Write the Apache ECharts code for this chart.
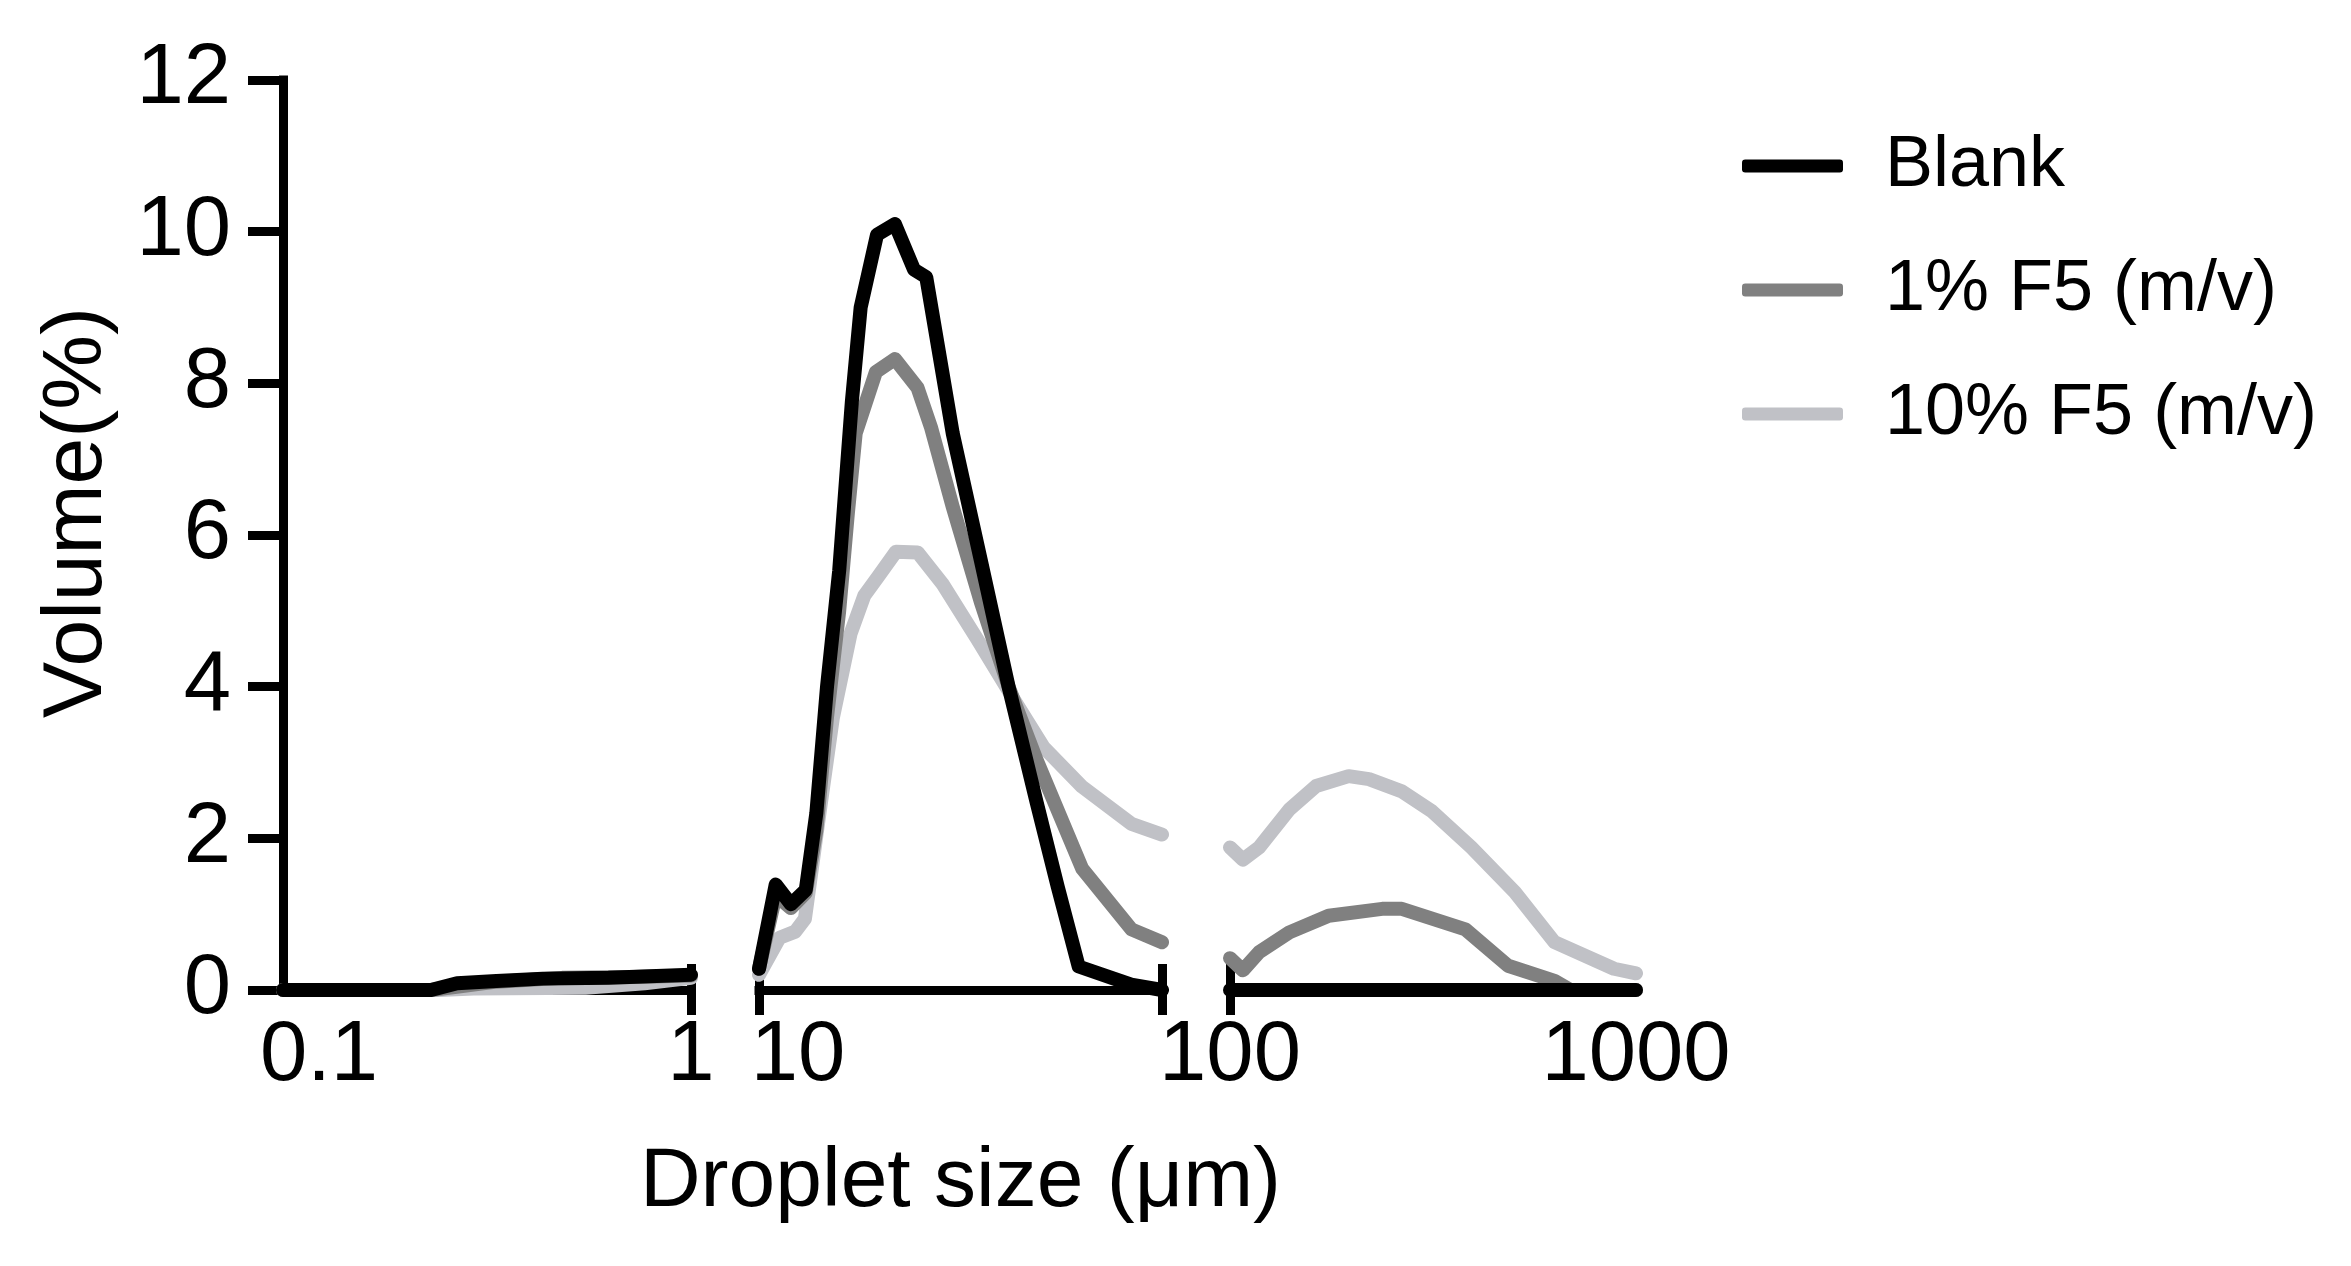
<!DOCTYPE html>
<html>
<head>
<meta charset="utf-8">
<title>Droplet size distribution</title>
<script src="https://cdn.jsdelivr.net/npm/echarts@6.0.0/dist/echarts.min.js"></script>
<style>
  html, body { margin: 0; padding: 0; background: #fff; }
  #chart { width: 2351px; height: 1266px; }
</style>
</head>
<body>
<div id="chart"></div>
<script>
// broken log x axis: three segments (µm)
const segmentRanges = [[0.08, 1], [8, 80], [100, 1000]]
const segmentTicks = [[1], [8, 80], [100]]
const segmentLabels = [[0.1, 1], [10], [100, 1000]]

const seriesNames = ['Blank', '1% F5 (m/v)', '10% F5 (m/v)']

// Blank
const blankSize = [0.08, 0.2, 0.235, 0.3, 0.4, 0.6, 1,
  8, 8.8, 9.6, 10.45, 11.1, 11.8, 12.65, 13.6, 14.3, 15.7, 17.4, 19.4, 20.8, 24.2, 28.4, 33.3, 39.1, 44.1, 49.7, 67.1, 80,
  100, 1000]
const blankVol = [0, 0, 0.09, 0.12, 0.15, 0.16, 0.2,
  0.28, 1.39, 1.13, 1.32, 2.33, 4.0, 5.53, 7.76, 9.0, 9.96, 10.1, 9.5, 9.4, 7.34, 5.67, 4.0, 2.47, 1.36, 0.31, 0.07, 0,
  0, 0]

// 1% F5
const f1Size = [0.08, 0.2, 0.24, 0.3, 0.45, 0.7, 1,
  8, 8.8, 9.6, 10.45, 11.1, 11.8, 12.65, 13.3, 13.9, 15.6, 17.4, 19.8, 21.4, 24.2, 28.4, 33.3, 39.1, 50.7, 67.2, 80,
  100, 107.6, 118, 140, 175, 237, 265, 380, 484, 630, 690, 1000]
const f1Vol = [0, 0, 0.05, 0.11, 0.16, 0.17, 0.19,
  0.28, 1.25, 1.08, 1.28, 2.1, 3.6, 5.0, 6.3, 7.34, 8.15, 8.32, 7.94, 7.41, 6.37, 5.12, 4.0, 3.03, 1.6, 0.8, 0.63,
  0.42, 0.26, 0.5, 0.76, 0.98, 1.07, 1.07, 0.8, 0.32, 0.12, 0, 0]

// 10% F5
const f10Size = [0.08, 0.21, 0.26, 0.52, 0.75, 1,
  8, 9, 9.84, 10.4, 11.3, 12.2, 13.5, 14.6, 15.8, 17.5, 19.8, 22.8, 27.8, 34.7, 40.7, 50.7, 67.2, 80,
  100, 107.6, 118, 140, 163, 196, 220, 265, 314, 393, 503, 630, 883, 1000]
const f10Vol = [0, 0, 0.02, 0.03, 0.09, 0.16,
  0.2, 0.69, 0.77, 0.94, 2.33, 3.59, 4.7, 5.2, 5.45, 5.78, 5.77, 5.36, 4.63, 3.79, 3.2, 2.68, 2.19, 2.05,
  1.88, 1.72, 1.88, 2.38, 2.69, 2.82, 2.78, 2.62, 2.36, 1.88, 1.29, 0.63, 0.28, 0.22]

const yMin = 0
const yMax = 12
const yInterval = 2

const FONT = 'Liberation Sans, Arial, sans-serif'
const gridLeft = [283, 759, 1230]
const gridWidth = [408, 403, 406]
const gridTop = 80
const gridHeight = 910

const lines = [
  // drawn light to dark so black sits on top
  { name: seriesNames[2], size: f10Size, vol: f10Vol, color: '#c0c1c6' },
  { name: seriesNames[1], size: f1Size, vol: f1Vol, color: '#808080' },
  { name: seriesNames[0], size: blankSize, vol: blankVol, color: '#000000' }
]

const log = v => Math.log10(v)
const tickText = v => {
  const x = Math.pow(10, v)
  return x < 1 ? x.toFixed(1) : String(Math.round(x))
}

const grids = []
const xAxes = []
const yAxes = []
const series = []

segmentRanges.forEach((range, i) => {
  const [lo, hi] = range
  grids.push({ left: gridLeft[i], top: gridTop, width: gridWidth[i], height: gridHeight })

  // main axis: line, downward ticks and labels
  xAxes.push({
    type: 'value',
    gridIndex: i,
    position: 'bottom',
    min: log(lo),
    max: log(hi),
    axisLine: { show: true, onZero: false, lineStyle: { color: '#000', width: 9, cap: i === 2 ? 'round' : 'square' } },
    axisTick: { show: true, customValues: segmentTicks[i].map(log), length: 25, lineStyle: { color: '#000', width: 9 } },
    axisLabel: {
      show: true,
      customValues: segmentLabels[i].map(log),
      formatter: tickText,
      color: '#000',
      fontFamily: FONT,
      fontSize: 85,
      margin: 24
    },
    splitLine: { show: false },
    name: i === 1 ? 'Droplet size (μm)' : '',
    nameLocation: 'middle',
    nameGap: 151,
    nameTextStyle: { color: '#000', fontFamily: FONT, fontSize: 84 }
  })
  // second axis only for the upward half of the cross ticks
  xAxes.push({
    type: 'value',
    gridIndex: i,
    position: 'bottom',
    min: log(lo),
    max: log(hi),
    axisLine: { show: false, onZero: false },
    axisTick: { show: true, inside: true, customValues: segmentTicks[i].map(log), length: 26, lineStyle: { color: '#000', width: 9 } },
    axisLabel: { show: false },
    splitLine: { show: false }
  })

  yAxes.push({
    type: 'value',
    gridIndex: i,
    show: i === 0,
    min: yMin,
    max: yMax,
    interval: yInterval,
    axisLine: { show: true, onZero: false, lineStyle: { color: '#000', width: 9, cap: 'square' } },
    axisTick: { show: true, length: 35, lineStyle: { color: '#000', width: 9 } },
    axisLabel: { color: '#000', fontFamily: FONT, fontSize: 85, margin: 52 },
    splitLine: { show: false },
    name: i === 0 ? 'Volume(%)' : '',
    nameLocation: 'middle',
    nameGap: 163,
    nameTextStyle: { color: '#000', fontFamily: FONT, fontSize: 84, padding: [0, 0, 0, 45] }
  })

  lines.forEach(l => {
    const data = []
    l.size.forEach((s, k) => {
      if (s >= lo && s <= hi) data.push([log(s), l.vol[k]])
    })
    series.push({
      name: l.name,
      type: 'line',
      xAxisIndex: i * 2,
      yAxisIndex: i,
      data,
      symbol: 'none',
      color: l.color,
      lineStyle: { color: l.color, width: 14, cap: 'round', join: 'round' },
      emphasis: { disabled: true }
    })
  })
})

const chart = echarts.init(document.getElementById('chart'))
chart.setOption({
  animation: false,
  backgroundColor: '#fff',
  legend: {
    data: seriesNames,
    orient: 'vertical',
    left: 1737,
    top: 121,
    itemWidth: 101,
    itemHeight: 13,
    itemGap: 44,
    icon: 'roundRect',
    selectedMode: false,
    itemStyle: { borderWidth: 0 },
    textStyle: { color: '#000', fontFamily: FONT, fontSize: 72, lineHeight: 80, padding: [0, 0, 0, 37] }
  },
  grid: grids,
  xAxis: xAxes,
  yAxis: yAxes,
  series
})
</script>
</body>
</html>
